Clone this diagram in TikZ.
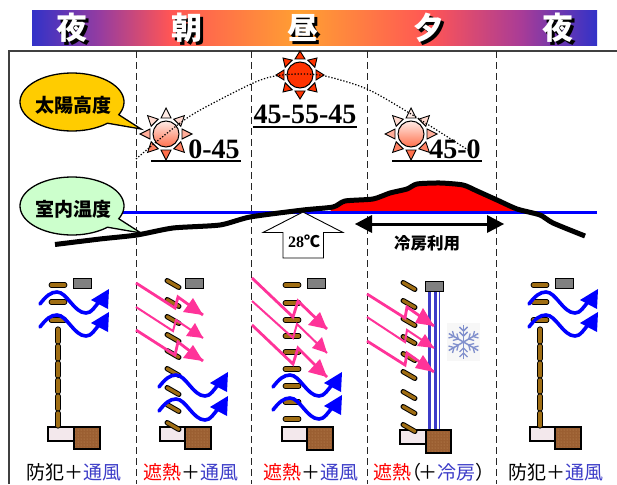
\documentclass[tikz,border=0pt]{standalone}
\usepackage{fontspec}
\setmainfont{Liberation Serif}
\newfontfamily\jp{Noto Sans CJK JP}
\usetikzlibrary{arrows.meta,patterns}
\definecolor{bA}{RGB}{50,50,200}
\definecolor{bB}{RGB}{150,60,160}
\definecolor{bC}{RGB}{255,85,85}
\definecolor{bD}{RGB}{255,160,50}
\definecolor{bE}{RGB}{170,60,150}
\definecolor{slatbrown}{RGB}{160,110,20}
\definecolor{pinkarrow}{RGB}{255,51,153}
\definecolor{soilbrown}{RGB}{155,95,50}
\definecolor{soildot}{RGB}{200,145,95}
\definecolor{basepink}{RGB}{243,232,236}
\definecolor{labelblue}{RGB}{60,60,200}
\definecolor{sunred}{RGB}{255,51,0}
\definecolor{calloutyellow}{RGB}{255,204,0}
\definecolor{calloutgreen}{RGB}{204,255,204}
\definecolor{flake}{RGB}{130,145,205}
\pgfdeclarehorizontalshading{band}{100bp}{color(0bp)=(bA);color(25bp)=(bA);color(31bp)=(bB);color(37.2bp)=(bC);color(48.7bp)=(bD);color(60.2bp)=(bC);color(68.2bp)=(bE);color(75bp)=(bA);color(100bp)=(bA)}
\tikzset{
  framebar/.style={draw=black!75,line width=1.5pt},
  divider/.style={draw=black!85,line width=1pt,dash pattern=on 7pt off 4pt},
  bandtext/.style={font=\jp\bfseries\fontsize{31}{31}\selectfont,inner sep=0pt},
  callouttext/.style={font=\jp\bfseries\fontsize{19}{19}\selectfont,inner sep=0pt},
  numtext/.style={font=\bfseries\fontsize{28}{28}\selectfont,inner sep=0pt},
  bottomtext/.style={font=\jp\fontsize{19}{19}\selectfont,inner sep=0pt},
  numrule/.style={draw=black,line width=1.6pt},
  graybox/.style={fill=black!50,draw=black,line width=0.9pt},
  basebox/.style={fill=basepink,draw=black,line width=1.3pt},
  soilbox/.style={preaction={fill=soilbrown},pattern=dots,pattern color=soildot,draw=black,line width=1.3pt},
}
\newcommand{\slatat}[3]{% x y angle
  \begin{scope}[shift={(#1,#2)},rotate=#3]
    \draw[black,line width=5.2pt,line cap=round] (-6.8,0) -- (6.8,0);
    \draw[slatbrown,line width=3.2pt,line cap=round] (-6.8,0) -- (6.8,0);
  \end{scope}}
\newcommand{\vslat}[3]{% x y1 y2
  \draw[black,line width=5.2pt,line cap=round] (#1,#2) -- (#1,#3);
  \draw[slatbrown,line width=3.2pt,line cap=round] (#1,#2) -- (#1,#3);}
\newcommand{\windat}[2]{%
  \begin{scope}[shift={(#1,#2)}]
    \draw[blue,line width=3.6pt,line cap=round] (0,0) .. controls (6,-8) and (11,-12) .. (17,-12)
      .. controls (27,-12) and (34,9) .. (46,9) .. controls (52,9) and (54,3) .. (60,-3);
    \fill[blue] (69,-15) -- (51,-4) -- (68,5) -- cycle;
  \end{scope}}
\newcommand{\pinkray}[7]{% width, start, bend1, bend2, tip, head1, head2
  \draw[pinkarrow,line width=#1pt] (#2) -- (#3) -- (#4) -- (#5);
  \fill[pinkarrow] (#5) -- (#6) -- (#7) -- cycle;}
\newcommand{\sunat}[6]{% x y r tipdist topmix bottommix
  \begin{scope}[shift={(#1,#2)}]
    \foreach \a in {0,45,...,315}{
      \pgfmathsetmacro{\mx}{#5+(#6-#5)*(sin(\a)+1)/2}
      \draw[black,line width=0.9pt,fill=sunred!\mx!white,line join=miter]
        ({(#3+3)*cos(\a)-5*sin(\a)},{(#3+3)*sin(\a)+5*cos(\a)}) --
        ({#4*cos(\a)},{#4*sin(\a)}) --
        ({(#3+3)*cos(\a)+5*sin(\a)},{(#3+3)*sin(\a)-5*cos(\a)}) -- cycle;}
    \shade[top color=sunred!#5!white,bottom color=sunred!#6!white,draw=black,line width=1pt] (0,0) circle (#3);
  \end{scope}}
\newcommand{\calloutat}[2]{% y fill
  \draw[fill=#2,draw=black,line width=1.3pt,line join=miter]
    plot[domain=47:386,samples=70] ({72+52*cos(\x)},{#1+29*sin(\x)}) -- (141,#1+27) -- cycle;}
\begin{document}
\begin{tikzpicture}[x=1pt,y=-1pt]
\useasboundingbox (0,0) rectangle (617,484);
% band
\shade[shading=band] (32,11) rectangle (597,46);
\foreach \n/\t/\x in {bn1/夜/72,bn2/朝/187,bn3/昼/303,bn4/夕/429,bn5/夜/558}{
  \node[bandtext,text=black] (\n s) at (\x+2.5,30.5) {\t};
  \node[bandtext,text=white] (\n) at (\x,28) {\t};}
% frame
\draw[framebar] (9,484) -- (9,51) -- (617,51);
\foreach \x in {136,251,367,496}{\draw[divider] (\x,51) -- (\x,484);}
% temperature
\fill[red] plot[smooth,tension=0.4] coordinates {(330,212) (333,207) (345,201) (373,199) (390,193) (407,189) (417,184) (440,183) (463,185) (477,191) (497,200) (517,212)} -- cycle;
\draw[blue,line width=2.2pt] (122,212.5) -- (597,212.5);
\draw[black,line width=5pt,line join=round] plot[smooth,tension=0.4] coordinates {(55,244.5) (100,239) (137,235) (173,228) (220,225) (250,217) (303,210) (333,207) (345,201) (373,199) (390,193) (407,189) (417,184) (440,183) (463,185) (477,191) (497,200) (517,209) (540,215) (553,223) (585,236)};
% callouts
\calloutat{102}{calloutyellow}
\node[callouttext] (sunlabel) at (73,105) {太陽高度};
\calloutat{206}{calloutgreen}
\node[callouttext] (templabel) at (73,209) {室内温度};
% suns
\sunat{166}{134}{13}{26}{10}{70}
\sunat{300}{75}{13}{24}{100}{100}
\sunat{411}{134}{13}{26}{10}{70}
\draw[black,line width=1.2pt,dash pattern=on 1.3pt off 1.8pt] plot[smooth,tension=0.5] coordinates {(136,159) (166,134) (195,113) (251,84) (275,76) (300,74) (325,76) (367,89) (411,114) (468,150)};
% sun numbers
\node[numtext] (n1) at (214,149) {0-45};
\draw[numrule] (151,161) -- (241,161);
\node[numtext] (n2) at (305,114) {45-55-45};
\draw[numrule] (253,127) -- (357,127);
\node[numtext] (n3) at (455,149) {45-0};
\draw[numrule] (392,161) -- (482,161);
% 28C arrow
\draw[fill=white,draw=black,line width=0.9pt,line join=miter] (303,212) -- (343,232.5) -- (323.5,232.5) -- (323.5,258) -- (283,258) -- (283,232.5) -- (263,232.5) -- cycle;
\node[font=\jp\bfseries\fontsize{16}{16}\selectfont,inner sep=0pt] (t28) at (304,241) {{\fontspec{Liberation Serif}\bfseries 28}℃};
% cooling arrow
\coordinate (cl) at (355,224);
\coordinate (cr) at (504,224);
\draw[black,line width=3pt] (370,224) -- (490,224);
\fill[black] (cl) -- (372,215) -- (372,233) -- cycle;
\fill[black] (cr) -- (487,215) -- (487,233) -- cycle;
\node[font=\jp\bfseries\fontsize{16.5}{17}\selectfont,inner sep=0pt] (coolt) at (427,243) {冷房利用};
% column 1
\draw[graybox] (73,278) rectangle (91,288);
\slatat{58}{285}{0}\slatat{58}{302}{0}\slatat{58}{320}{0}
\draw[basebox] (48,427) rectangle (74,441);
\draw[soilbox] (74,427) rectangle (100,449);
\vslat{58}{329}{342}\vslat{58}{346}{359}\vslat{58}{363}{376}\vslat{58}{380}{392}\vslat{58}{396}{409}\vslat{58}{413}{426}
\windat{40}{304}\windat{40}{327}
% column 2
\draw[graybox] (185,278) rectangle (203,288);
\draw[basebox] (160,427) rectangle (185,441);
\draw[soilbox] (185,427) rectangle (211,449);
\foreach \y in {284,303,320,338,354,372,391,408,426}{\slatat{173}{\y}{-30}}
\windat{159}{387}\windat{159}{411}
\pinkray{2.8}{136,283}{175,308}{178,297}{203,315}{193,298}{183,312}
\pinkray{2}{136,307}{173,331}{176,320}{203,338}{195,323}{186,336}
\pinkray{2.8}{136,330}{175,355}{178,342}{203,361}{193,345}{183,358}
% column 3
\draw[graybox] (307,278) rectangle (325,288);
\foreach \y in {285,303,320,336,352,369,386,402,419}{\slatat{292}{\y}{0}}
\draw[basebox] (282,427) rectangle (307,441);
\draw[soilbox] (307,427) rectangle (333,450);
\windat{273}{387}\windat{273}{410}
\pinkray{2.8}{252,278}{293,317}{298,301}{327,329}{320,312}{308,325}
\pinkray{2}{252,301}{293,338}{297,324}{327,353}{322,337}{312,348}
\pinkray{2.8}{252,325}{293,364}{298,348}{327,377}{320,359}{308,372}
% column 4
\draw[labelblue,line width=2.8pt] (429.7,291) -- (429.7,430);
\draw[labelblue,line width=3pt] (435,291) -- (435,430);
\draw[labelblue,line width=1pt] (439,291) -- (439,430);
\draw[graybox] (425,281) rectangle (443,291);
\draw[basebox] (400,430) rectangle (426,444);
\draw[soilbox] (426,430) rectangle (451,453);
\foreach \y in {286,304,322,340,357,375,395,410,428}{\slatat{409}{\y}{-30}}
\pinkray{2.8}{367,294}{405,318}{407,307}{434,326}{423,308}{415,323}
\pinkray{2}{367,317}{405,342}{407,330}{434,348}{425,334}{417,346}
\pinkray{2.8}{367,341}{405,365}{407,353}{434,372}{423,355}{415,368}
% snowflake
\fill[black!3] (447,323) rectangle (480,361);
\begin{scope}[shift={(463.5,342)}]
  \foreach \a in {90,150,...,450}{
    \begin{scope}[rotate=\a]
      \draw[flake,line width=1.5pt] (0,0) -- (17,0);
      \draw[flake,line width=1.3pt] (6,0) -- (10,4) (6,0) -- (10,-4) (11,0) -- (15,4) (11,0) -- (15,-4);
    \end{scope}}
\end{scope}
% column 5
\draw[graybox] (555,278) rectangle (573,288);
\slatat{540}{285}{0}\slatat{540}{302}{0}\slatat{540}{320}{0}
\draw[basebox] (530,427) rectangle (555,441);
\draw[soilbox] (555,427) rectangle (581,449);
\vslat{540}{329}{342}\vslat{540}{346}{359}\vslat{540}{363}{376}\vslat{540}{380}{392}\vslat{540}{396}{409}\vslat{540}{413}{426}
\windat{529}{304}\windat{529}{327}
% bottom labels
\node[bottomtext] (b1) at (74,472) {防犯＋\textcolor{labelblue}{通風}};
\node[bottomtext] (b2) at (191,472) {\textcolor{red}{遮熱}＋\textcolor{labelblue}{通風}};
\node[bottomtext] (b3) at (311,472) {\textcolor{red}{遮熱}＋\textcolor{labelblue}{通風}};
\node[bottomtext] (b4) at (433.5,472) {\textcolor{red}{遮熱}\hspace{-9pt}（\hspace{-3pt}＋\textcolor{labelblue}{冷房}）\hspace{-9pt}};
\node[bottomtext] (b5) at (556,472) {防犯＋\textcolor{labelblue}{通風}};
\end{tikzpicture}
\end{document}
